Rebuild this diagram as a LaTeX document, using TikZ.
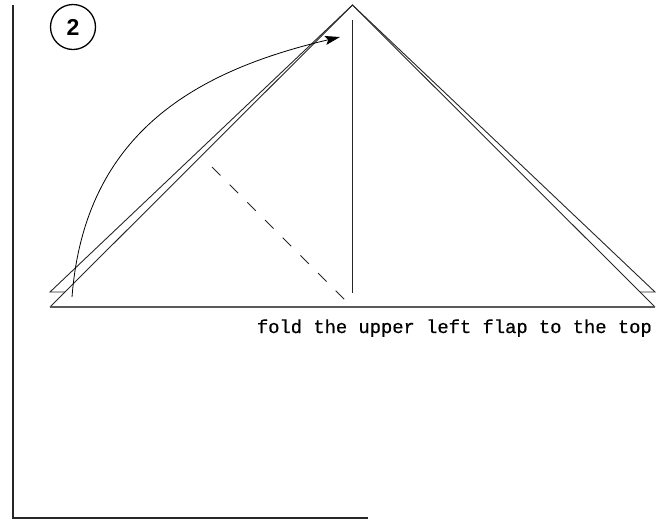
\documentclass[tikz,border=0pt]{standalone}
\usepackage{fontspec}
\setmainfont{Liberation Mono}
\newfontfamily\capfont[FakeBold=0.6]{Liberation Mono}
\newfontfamily\digitfont{Liberation Sans}
\usetikzlibrary{arrows.meta}
\begin{document}
\begin{tikzpicture}[x=1pt, y=-1pt,
  edge/.style={line width=0.9pt, black!85},
  basefold/.style={line width=1.3pt, black!65},
  frame/.style={line width=2pt, black!85},
  arrow/.style={->, >={Stealth[length=15pt, width=9pt, inset=3pt]}, line width=0.8pt},
  crease/.style={line width=0.9pt, black!85, dash pattern=on 12pt off 13pt},
  stepnum/.style={circle, draw, line width=1.3pt, minimum size=45pt, inner sep=0pt, font=\digitfont\bfseries\fontsize{23}{23}\selectfont},
  caption/.style={inner sep=0pt, font=\capfont\fontsize{18.8}{20}\selectfont}
]
  \useasboundingbox (0,0) rectangle (664,523);

  % Frame corner
  \coordinate (ftop) at (13,5);
  \coordinate (fcorner) at (13,518);
  \coordinate (fend) at (368,518);
  \draw[frame] (ftop) -- (fcorner) -- (fend);

  % Step number
  \node[stepnum] (num) at (73,27) {2};

  % Paper corners (lower layer and upper flap)
  \coordinate (apex) at (352.5,5);
  \coordinate (bl) at (50,307);
  \coordinate (br) at (655,307);
  \coordinate (ul) at (50,292);
  \coordinate (ur) at (655,292);
  \coordinate (ulin) at (65,292);
  \coordinate (urin) at (640,292);

  % Edges
  \draw[edge] (bl) -- (apex) -- (br);
  \draw[edge] (ulin) -- (ul) -- (apex) -- (ur) -- (urin);
  \draw[basefold] (bl) -- (br);

  % Centre line and crease
  \coordinate (vtop) at (352.5,20);
  \coordinate (vbot) at (352.5,293);
  \draw[edge] (vtop) -- (vbot);
  \coordinate (ctop) at (212,167);
  \coordinate (cbot) at (352,307);
  \draw[crease] (ctop) -- (cbot);

  % Fold arrow
  \coordinate (astart) at (72,297);
  \coordinate (atip) at (340,37);
  \draw[arrow] (astart) .. controls (85,130) and (200,70) .. (atip);

  % Instruction
  \node[caption, anchor=base east] (label) at (652,333) {fold the upper left flap to the top};
\end{tikzpicture}
\end{document}
